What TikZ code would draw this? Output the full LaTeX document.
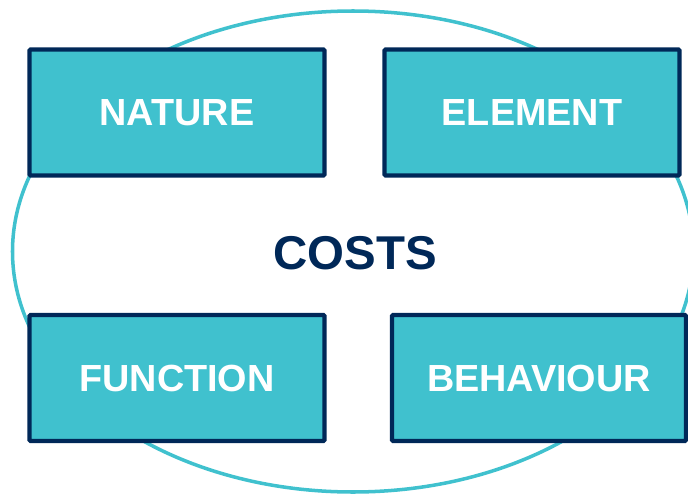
\documentclass[tikz,border=0pt]{standalone}
\usepackage{fontspec}
\setmainfont{Liberation Sans}
\usetikzlibrary{positioning}

\definecolor{costteal}{RGB}{64,193,206}
\definecolor{costnavy}{RGB}{0,40,88}

\begin{document}
\begin{tikzpicture}[
    kindbox/.style={draw=costnavy, line width=2.3pt, fill=costteal, rounded corners=0.6pt,
        minimum width=5.9cm, minimum height=2.52cm, inner sep=0pt,
        text=white, font=\fontsize{21.5}{25}\selectfont\bfseries},
    title/.style={text=costnavy, font=\fontsize{27}{31}\selectfont\bfseries}
]

    \clip (0,0) rectangle (13.76,9.86);
    \useasboundingbox (0,0) rectangle (13.76,9.86);

    \draw[costteal, line width=2pt] (7.06,4.83) ellipse (6.81 and 4.81); % outline round the four kinds

    \node[title] (costs) at (7.1,4.79) {COSTS};

    \node[kindbox] (nature)    at (3.54,7.61)  {NATURE};
    \node[kindbox] (element)   at (10.64,7.61) {ELEMENT};
    \node[kindbox] (function)  at (3.54,2.30)  {FUNCTION};
    \node[kindbox, minimum width=5.88cm] (behaviour) at (10.78,2.30) {BEHAVIOUR};
\end{tikzpicture}
\end{document}
